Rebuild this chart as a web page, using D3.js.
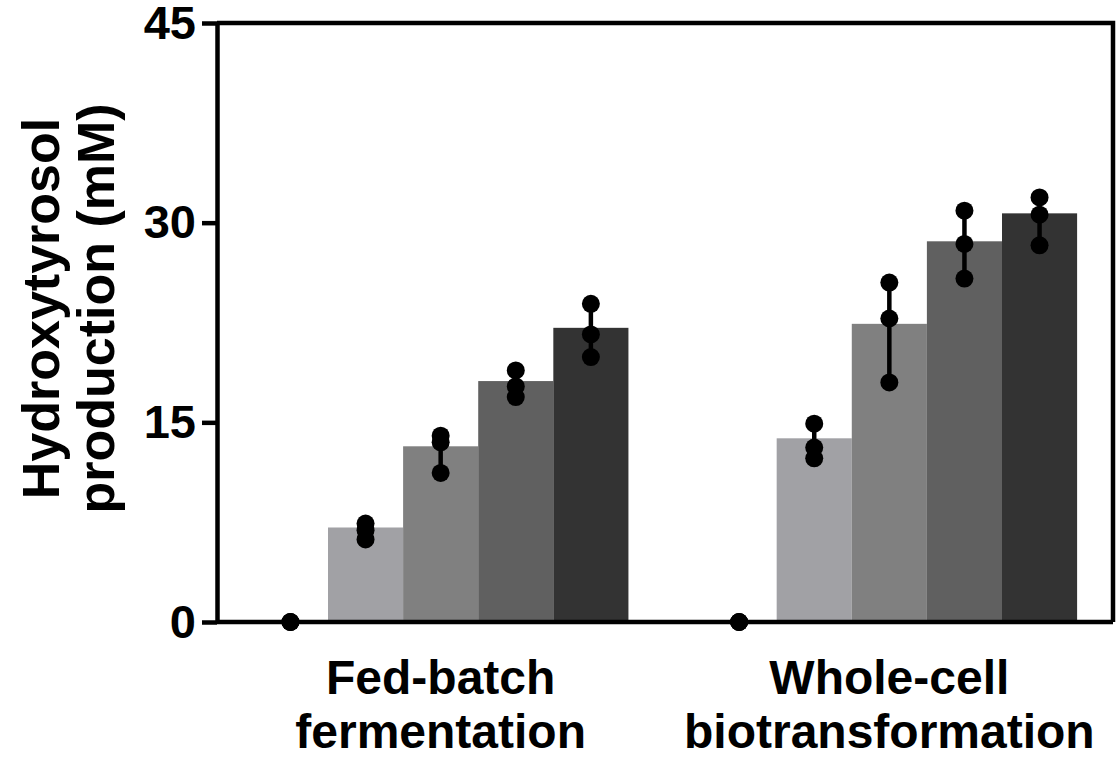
<!DOCTYPE html>
<html>
<head>
    <title>Hydroxytyrosol production</title>
    <script src="https://d3js.org/d3.v7.min.js"></script>
    <style>
        body { margin: 0; background: #fff; }
        text { font-family: "Liberation Sans", Arial, sans-serif; font-weight: bold; fill: #000; }
    </style>
</head>
<body>
    <div id="chart"></div>

    <script>
        // Data
        const groups = ["Fed-batch fermentation", "Whole-cell biotransformation"];
        const groupLabels = [["Fed-batch", "fermentation"], ["Whole-cell", "biotransformation"]];
        const series = ["s0", "s1", "s2", "s3", "s4"];
        const seriesColors = ["#ffffff", "#a1a1a5", "#808080", "#606060", "#333333"];

        // bar heights (mean), per group, per series
        const fedBatchMeans = [0, 7.1, 13.2, 18.1, 22.1];
        const wholeCellMeans = [0, 13.8, 22.4, 28.6, 30.7];

        // replicate points
        const fedBatchPoints = [
            [0, 0, 0],
            [7.4, 6.9, 6.2],
            [14.0, 13.5, 11.2],
            [18.9, 17.7, 16.9],
            [23.9, 21.6, 19.9]
        ];
        const wholeCellPoints = [
            [0, 0, 0],
            [14.9, 13.1, 12.3],
            [25.5, 22.8, 18.0],
            [30.9, 28.4, 25.8],
            [31.9, 30.6, 28.3]
        ];

        const yTicks = [0, 15, 30, 45];
        const yTitle = ["Hydroxytyrosol", "production (mM)"];

        const config = {
            width: 1117,
            height: 760,
            margin: { top: 23, right: 4, bottom: 138, left: 217 },
            axisWidth: 4.5,
            dotRadius: 9
        };

        const means = [fedBatchMeans, wholeCellMeans];
        const points = [fedBatchPoints, wholeCellPoints];

        const innerW = config.width - config.margin.left - config.margin.right;
        const innerH = config.height - config.margin.top - config.margin.bottom;

        const svg = d3.select("#chart")
            .append("svg")
            .attr("width", config.width)
            .attr("height", config.height)
            .append("g")
            .attr("transform", `translate(${config.margin.left},${config.margin.top})`);

        // Scales
        const x0 = d3.scaleBand()
            .domain(groups)
            .range([0, innerW])
            .paddingInner(0.163)
            .paddingOuter(0.08);

        const x1 = d3.scaleBand()
            .domain(series)
            .range([0, x0.bandwidth()])
            .padding(0);

        const y = d3.scaleLinear()
            .domain([0, 45])
            .range([innerH, 0]);

        const color = d3.scaleOrdinal().domain(series).range(seriesColors);

        // Flatten into rows
        const rows = [];
        groups.forEach((g, gi) => {
            series.forEach((s, si) => {
                rows.push({ group: g, series: s, mean: means[gi][si], pts: points[gi][si] });
            });
        });

        // Bars
        svg.selectAll(".bar")
            .data(rows.filter(d => d.mean > 0))
            .enter()
            .append("rect")
            .attr("class", "bar")
            .attr("x", d => x0(d.group) + x1(d.series))
            .attr("y", d => y(d.mean))
            .attr("width", x1.bandwidth())
            .attr("height", d => y(0) - y(d.mean))
            .attr("fill", d => color(d.series));

        // Error lines spanning the replicates
        svg.selectAll(".err")
            .data(rows)
            .enter()
            .append("line")
            .attr("class", "err")
            .attr("x1", d => x0(d.group) + x1(d.series) + x1.bandwidth() / 2)
            .attr("x2", d => x0(d.group) + x1(d.series) + x1.bandwidth() / 2)
            .attr("y1", d => y(d3.min(d.pts)))
            .attr("y2", d => y(d3.max(d.pts)))
            .attr("stroke", "#000")
            .attr("stroke-width", 4.5);

        // Frame (top and right)
        svg.append("path")
            .attr("d", `M0,${y(45)}H${innerW}V${y(0)}`)
            .attr("fill", "none")
            .attr("stroke", "#000")
            .attr("stroke-width", config.axisWidth);

        // Axes
        const xAxis = svg.append("g")
            .attr("transform", `translate(0,${innerH})`)
            .call(d3.axisBottom(x0).tickSize(0).tickSizeOuter(0).tickFormat(""));
        xAxis.select(".domain")
            .attr("stroke-width", config.axisWidth)
            .attr("d", `M0,0H${innerW}`);

        const yAxis = svg.append("g")
            .call(d3.axisLeft(y)
                .tickValues(yTicks)
                .tickSize(15)
                .tickSizeOuter(0)
                .tickPadding(6));
        yAxis.select(".domain").attr("stroke-width", config.axisWidth);
        yAxis.selectAll(".tick line").attr("stroke-width", config.axisWidth);
        yAxis.selectAll(".tick text")
            .style("font-size", "47px")
            .style("font-family", "'Liberation Sans', Arial, sans-serif")
            .style("font-weight", "bold")
            .attr("fill", "#000");

        // Dots
        const dots = [];
        rows.forEach(d => d.pts.forEach(v => dots.push({ group: d.group, series: d.series, v })));
        svg.selectAll(".dot")
            .data(dots)
            .enter()
            .append("circle")
            .attr("class", "dot")
            .attr("cx", d => x0(d.group) + x1(d.series) + x1.bandwidth() / 2)
            .attr("cy", d => y(d.v))
            .attr("r", config.dotRadius)
            .attr("fill", "#000");

        // Category labels (two lines)
        const catLabels = svg.selectAll(".cat")
            .data(groups)
            .enter()
            .append("text")
            .attr("class", "cat")
            .attr("text-anchor", "middle")
            .attr("transform", d => `translate(${x0(d) + x0.bandwidth() / 2},${innerH + 72})`)
            .style("font-size", "48px");
        catLabels.selectAll("tspan")
            .data((d, i) => groupLabels[i])
            .enter()
            .append("tspan")
            .attr("x", 0)
            .attr("y", (d, i) => i * 54)
            .text(d => d);

        // Y title
        const title = svg.append("text")
            .attr("text-anchor", "middle")
            .attr("transform", `translate(${-config.margin.left},${innerH / 2 - 14}) rotate(-90)`)
            .style("font-size", "52px");
        title.selectAll("tspan")
            .data(yTitle)
            .enter()
            .append("tspan")
            .attr("x", 0)
            .attr("y", (d, i) => 59 + i * 55)
            .text(d => d);
    </script>
</body>
</html>
